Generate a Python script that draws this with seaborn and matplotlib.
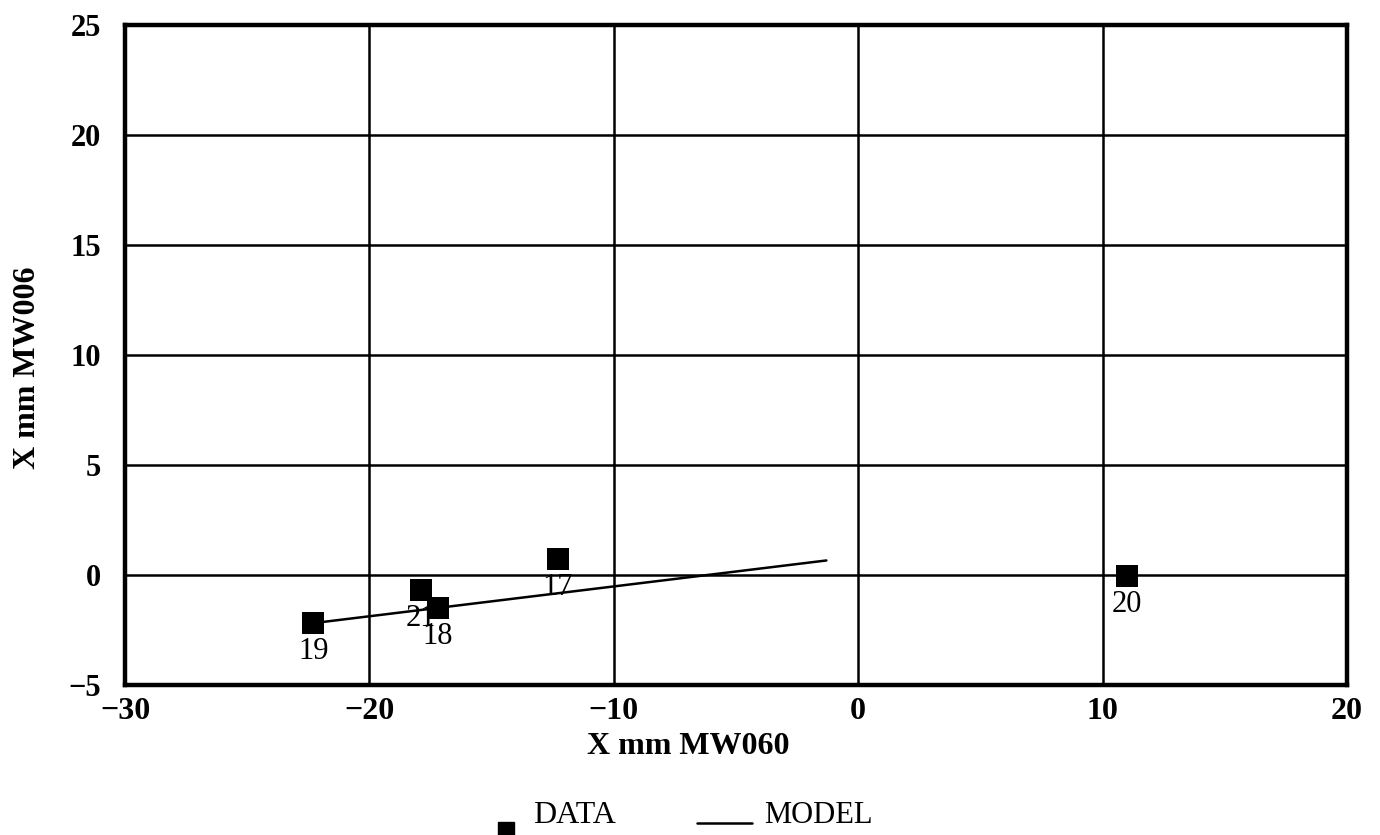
import matplotlib
matplotlib.use('Agg')
import matplotlib.pyplot as plt
import pandas as pd
import seaborn as sns
from matplotlib.lines import Line2D

# Data
point_ids = ['19', '21', '18', '17', '20']
x_mw060 = [-22.3, -17.9, -17.2, -12.3, 11.0]
x_mw006 = [-2.2, -0.7, -1.5, 0.7, -0.05]

model_x = [-22.3, -1.3]
model_y = [-2.2, 0.65]

x_ticks = [-30, -20, -10, 0, 10, 20]
y_ticks = [-5, 0, 5, 10, 15, 20, 25]

df = pd.DataFrame({'id': point_ids, 'x': x_mw060, 'y': x_mw006})
df_model = pd.DataFrame({'x': model_x, 'y': model_y})

sns.set_style('white')
plt.rcParams['font.family'] = ['Liberation Serif', 'DejaVu Serif']
plt.rcParams['text.color'] = 'black'
plt.rcParams['xtick.color'] = 'black'
plt.rcParams['ytick.color'] = 'black'
plt.rcParams['axes.labelcolor'] = 'black'

fig, ax = plt.subplots(figsize=(13.8, 8.35), dpi=100)
fig.subplots_adjust(left=0.0906, right=0.976, top=0.970, bottom=0.180)

sns.lineplot(ax=ax, data=df_model, x='x', y='y', color='black', linewidth=1.8, zorder=3)
sns.scatterplot(ax=ax, data=df, x='x', y='y', marker='s', s=260, color='black',
                edgecolor='black', linewidth=0, zorder=4)

for pid, px, py in zip(df['id'], df['x'], df['y']):
    ax.annotate(pid, (px, py), xytext=(0, -10), textcoords='offset points',
                ha='center', va='top', fontsize=22, zorder=2)

ax.set_xlim(-30, 20)
ax.set_ylim(-5, 25)
ax.set_xticks(x_ticks)
ax.set_yticks(y_ticks)
ax.set_xticklabels([str(t).replace('-', '\u2212') for t in x_ticks], fontsize=23, fontweight='bold')
ax.set_yticklabels([str(t).replace('-', '\u2212') for t in y_ticks], fontsize=22, fontweight='bold')
ax.tick_params(axis='x', length=0, pad=9)
ax.tick_params(axis='y', length=0, pad=17)
ax.grid(True, color='black', linewidth=1.8)
ax.set_axisbelow(True)
for s in ax.spines.values():
    s.set_color('black')
    s.set_linewidth(3.2)

ax.set_xlabel('X mm MW060', fontsize=23, fontweight='bold')
ax.set_ylabel('X mm MW006', fontsize=23, fontweight='bold')
ax.xaxis.set_label_coords(0.461, -0.072)
ax.yaxis.set_label_coords(-0.068, 0.48)

# legend drawn below the axes
fig.add_artist(Line2D([0.367], [0.006], marker='s', color='black', markersize=12,
                      linestyle='none', transform=fig.transFigure))
fig.text(0.386, 0.0144, 'DATA', fontsize=23, ha='left', va='baseline')
fig.add_artist(Line2D([0.505, 0.545], [0.0144, 0.0144], color='black', linewidth=1.8,
                      transform=fig.transFigure))
fig.text(0.554, 0.0144, 'MODEL', fontsize=22, ha='left', va='baseline')

fig.savefig('out.png', dpi=100)
